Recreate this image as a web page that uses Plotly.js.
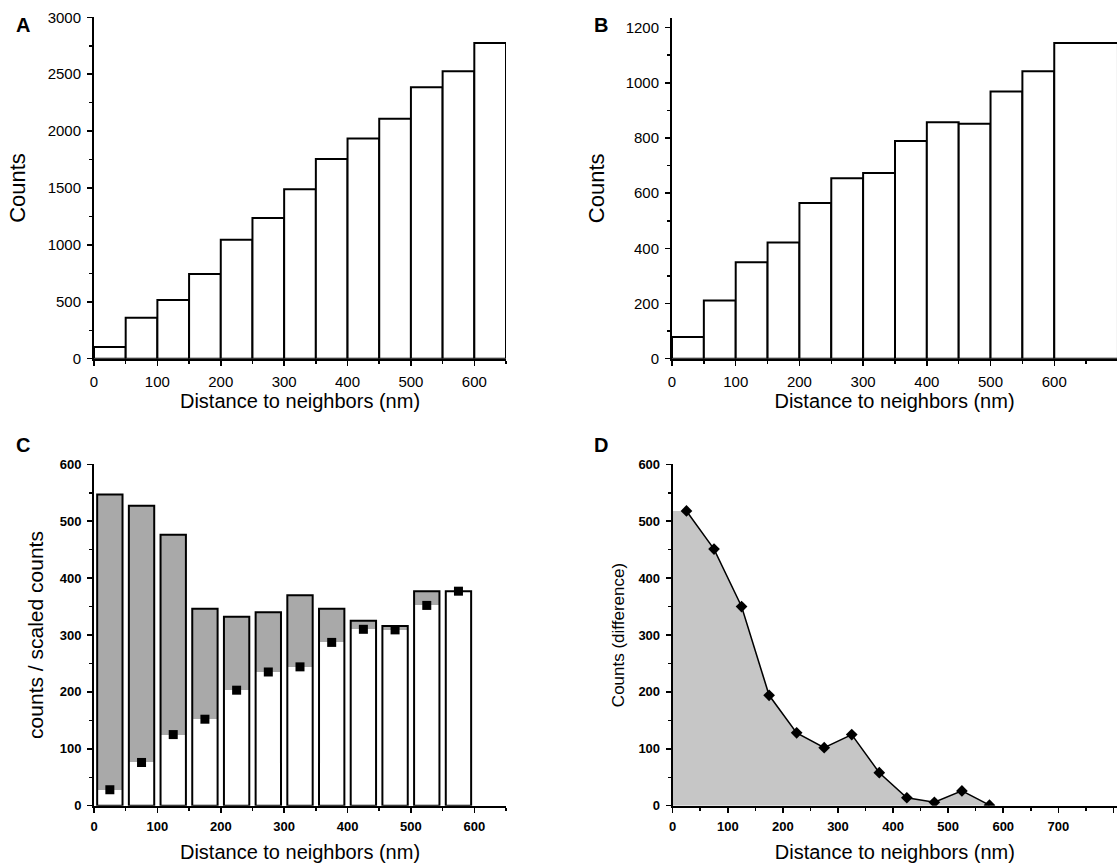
<!DOCTYPE html>
<html>
<head>
<meta charset="utf-8">
<script src="https://cdn.plot.ly/plotly-3.0.1.min.js"></script>
<style>html,body{margin:0;padding:0;background:#fff;}#chart{width:1117px;height:865px;}</style>
</head>
<body>
<div id="chart"></div>
<script>
// ---- data ----
const binCentersAB = [25, 75, 125, 175, 225, 275, 325, 375, 425, 475, 525, 575, 625];
const countsA = [103, 360, 516, 744, 1046, 1236, 1488, 1755, 1934, 2109, 2385, 2525, 2774];
const countsB = [79, 211, 350, 421, 564, 654, 673, 789, 857, 852, 969, 1042, 1144];

const binCentersCD = [25, 75, 125, 175, 225, 275, 325, 375, 425, 475, 525, 575];
const countsC = [547, 527, 476, 346, 332, 340, 370, 346, 325, 316, 377, 377];
const scaledC = [28, 76, 125, 152, 203, 235, 244, 287, 310, 309, 352, 377];
const diffD = [518, 451, 350, 194, 128, 102, 125, 58, 14, 6, 26, 1];

const xTitle = 'Distance to neighbors (nm)';
const FONT = 'Arial, "Liberation Sans", sans-serif';

// ---- traces ----
const lastWide = binCentersAB.map((_, i) => i === binCentersAB.length - 1 ? 100 : 50);

const traces = [
  {type: 'bar', x: binCentersAB, y: countsA, xaxis: 'x', yaxis: 'y', width: 50,
   marker: {color: '#ffffff', line: {color: '#000', width: 2}}},
  {type: 'bar', x: binCentersAB, y: countsB, xaxis: 'x2', yaxis: 'y2', width: lastWide, offset: -25,
   marker: {color: '#ffffff', line: {color: '#000', width: 2}}},
  {type: 'bar', x: binCentersCD, y: countsC, xaxis: 'x3', yaxis: 'y3', width: 40,
   marker: {color: '#a9a9a9', line: {width: 0}}},
  {type: 'bar', x: binCentersCD, y: scaledC, xaxis: 'x3', yaxis: 'y3', width: 40,
   marker: {color: '#ffffff', line: {width: 0}}},
  {type: 'bar', x: binCentersCD, y: countsC, xaxis: 'x3', yaxis: 'y3', width: 40,
   marker: {color: 'rgba(0,0,0,0)', line: {color: '#000', width: 2}}},
  {type: 'scatter', mode: 'markers', x: binCentersCD, y: scaledC, xaxis: 'x3', yaxis: 'y3',
   marker: {symbol: 'square', size: 9, color: '#000'}},
  {type: 'scatter', mode: 'lines', x: [0].concat(binCentersCD), y: [diffD[0]].concat(diffD),
   xaxis: 'x4', yaxis: 'y4', fill: 'tozeroy', fillcolor: '#c6c6c6', line: {width: 0}, hoverinfo: 'skip'},
  {type: 'scatter', mode: 'lines+markers', x: binCentersCD, y: diffD, xaxis: 'x4', yaxis: 'y4',
   line: {color: '#000', width: 1.5}, marker: {symbol: 'diamond', size: 9, color: '#000'}}
];

// ---- layout ----
const W = 1117, H = 865;
function xd(a, b) { return [a / W, b / W]; }
function yd(bottom, top) { return [(H - bottom) / H, (H - top) / H]; }

function axis(opts) {
  const bold = opts.bold;
  const tf = {family: FONT, size: bold ? 13 : 15, color: '#000'};
  if (bold) tf.weight = 'bold';
  return Object.assign({
    showline: true, linecolor: '#000', linewidth: 2, mirror: false,
    showgrid: false, zeroline: false,
    ticks: 'outside', ticklen: 5, tickwidth: 1.5, tickcolor: '#000',
    ticklabelstandoff: 3,
    tickmode: 'linear', tick0: 0,
    tickfont: tf,
    minor: {tickmode: 'linear', tick0: 0, dtick: opts.minor, ticks: 'outside', ticklen: 3,
            tickwidth: 1.5, tickcolor: '#000', showgrid: false},
    fixedrange: true
  }, opts.rest);
}

const layout = {
  width: W, height: H,
  margin: {l: 0, r: 0, t: 0, b: 0},
  paper_bgcolor: '#fff', plot_bgcolor: 'rgba(0,0,0,0)',
  showlegend: false,
  barmode: 'overlay', bargap: 0,
  font: {family: FONT, color: '#000', size: 15},
  xaxis: axis({minor: 50, rest: {domain: xd(94, 506), range: [0, 650], dtick: 100, anchor: 'y',
    title: {text: xTitle, font: {size: 20}, standoff: 5}}}),
  yaxis: axis({minor: 250, rest: {domain: yd(358.7, 17.3), range: [0, 3000], dtick: 500, anchor: 'x',
    title: {text: 'Counts', font: {size: 22}, standoff: 16}}}),
  xaxis2: axis({minor: 50, rest: {domain: xd(672, 1117), range: [0, 698.5], dtick: 100, anchor: 'y2',
    title: {text: xTitle, font: {size: 20}, standoff: 5}}}),
  yaxis2: axis({minor: 100, rest: {domain: yd(358.7, 18), range: [0, 1235], dtick: 200, anchor: 'x2',
    title: {text: 'Counts', font: {size: 22}, standoff: 15}}}),
  xaxis3: axis({bold: true, minor: 50, rest: {domain: xd(94, 506), range: [0, 650], dtick: 100, anchor: 'y3',
    title: {text: xTitle, font: {size: 20}, standoff: 12}}}),
  yaxis3: axis({bold: true, minor: 50, rest: {domain: yd(805.7, 464.3), range: [0, 600], dtick: 100, anchor: 'x3',
    title: {text: 'counts / scaled counts', font: {size: 21}, standoff: 10}}}),
  xaxis4: axis({bold: true, minor: 50, rest: {domain: xd(672.7, 1117), range: [0, 806.5], dtick: 100, anchor: 'y4',
    title: {text: xTitle, font: {size: 20}, standoff: 12}}}),
  yaxis4: axis({bold: true, minor: 50, rest: {domain: yd(805.7, 464.3), range: [0, 600], dtick: 100, anchor: 'x4',
    title: {text: 'Counts (difference)', font: {size: 17}, standoff: 9}}}),
  annotations: [
    {text: 'A', x: 14 / W, y: 1 - 12 / H},
    {text: 'B', x: 592 / W, y: 1 - 12 / H},
    {text: 'C', x: 14 / W, y: 1 - 432 / H},
    {text: 'D', x: 592 / W, y: 1 - 432 / H}
  ].map(a => Object.assign(a, {xref: 'paper', yref: 'paper', xanchor: 'left', yanchor: 'top',
    showarrow: false, font: {family: FONT, size: 20, weight: 'bold', color: '#000'}}))
};

Plotly.newPlot('chart', traces, layout, {staticPlot: true, displayModeBar: false});
</script>
</body>
</html>
